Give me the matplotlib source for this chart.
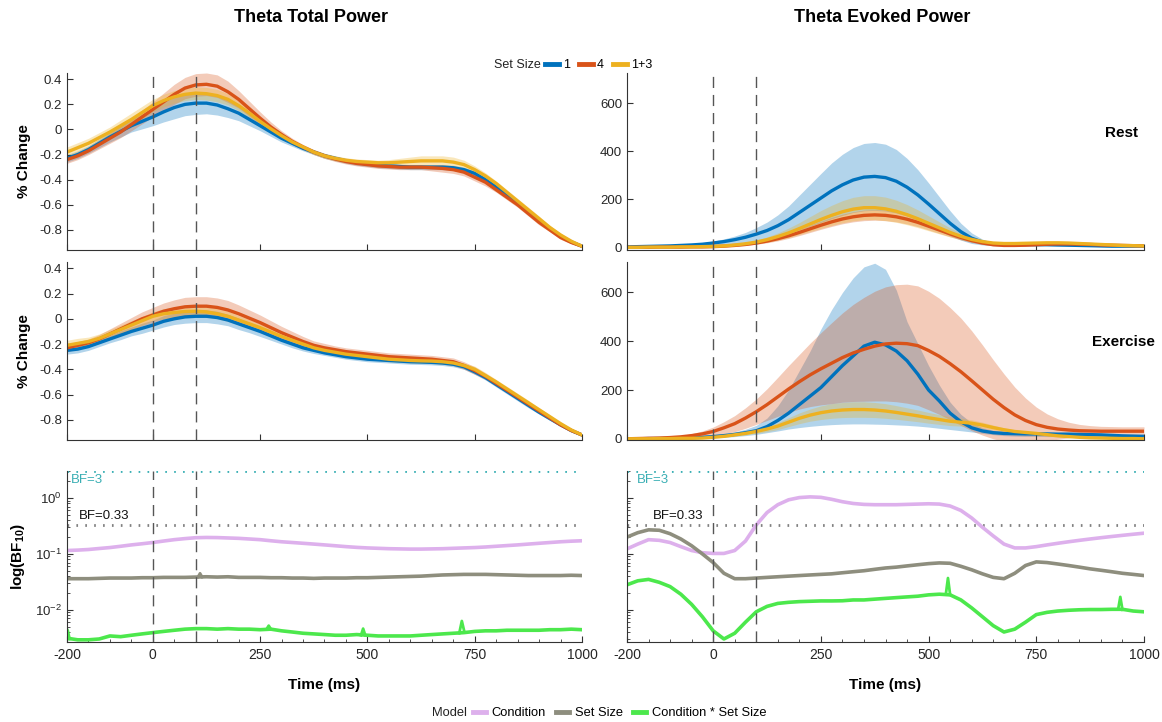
import numpy as np
import matplotlib
matplotlib.use('Agg')
import matplotlib.pyplot as plt
from matplotlib.lines import Line2D
from matplotlib.ticker import MultipleLocator, FixedLocator, NullFormatter

plt.rcParams['font.family'] = ['Liberation Sans', 'DejaVu Sans']
plt.rcParams['axes.unicode_minus'] = False
plt.rcParams['mathtext.fontset'] = 'custom'
plt.rcParams['mathtext.rm'] = 'Liberation Sans'
plt.rcParams['mathtext.bf'] = 'Liberation Sans:bold'

# ---------------- data ----------------
t = np.arange(-200, 1001, 25)   # ms, 49 samples

# total power, rest (% change)
tot_rest_1 = [-0.23, -0.20, -0.16, -0.11, -0.06, -0.015, 0.03, 0.065,
              0.10, 0.14, 0.175, 0.20, 0.21, 0.21, 0.195, 0.165,
              0.13, 0.08, 0.03, -0.02, -0.07, -0.11, -0.15, -0.18,
              -0.21, -0.23, -0.25, -0.265, -0.275, -0.285, -0.29, -0.295,
              -0.30, -0.30, -0.30, -0.30, -0.305, -0.32, -0.35, -0.40,
              -0.46, -0.52, -0.59, -0.66, -0.73, -0.79, -0.85, -0.895,
              -0.93]
tot_rest_4 = [-0.24, -0.21, -0.17, -0.12, -0.07, -0.02, 0.04, 0.10,
              0.16, 0.22, 0.28, 0.33, 0.355, 0.36, 0.345, 0.30,
              0.24, 0.165, 0.09, 0.02, -0.04, -0.095, -0.14, -0.18,
              -0.21, -0.235, -0.255, -0.27, -0.28, -0.29, -0.295, -0.30,
              -0.30, -0.30, -0.305, -0.31, -0.32, -0.34, -0.38, -0.42,
              -0.48, -0.54, -0.60, -0.67, -0.74, -0.80, -0.86, -0.90,
              -0.93]
tot_rest_13 = [-0.18, -0.145, -0.11, -0.065, -0.02, 0.03, 0.08, 0.135,
               0.19, 0.23, 0.26, 0.28, 0.29, 0.285, 0.27, 0.24,
               0.19, 0.13, 0.065, 0.005, -0.05, -0.10, -0.14, -0.18,
               -0.21, -0.23, -0.245, -0.255, -0.26, -0.265, -0.265, -0.26,
               -0.255, -0.25, -0.25, -0.25, -0.26, -0.28, -0.32, -0.37,
               -0.43, -0.50, -0.57, -0.64, -0.71, -0.78, -0.84, -0.89,
               -0.93]
tot_rest_1_err = [0.03, 0.03, 0.03, 0.035, 0.04, 0.045, 0.05, 0.06,
                  0.07, 0.08, 0.09, 0.09, 0.09, 0.085, 0.08, 0.07,
                  0.06, 0.05, 0.04, 0.035, 0.03, 0.025, 0.02, 0.02,
                  0.02, 0.02, 0.02, 0.02, 0.02, 0.02, 0.02, 0.02,
                  0.02, 0.02, 0.02, 0.02, 0.02, 0.02, 0.02, 0.02,
                  0.02, 0.02, 0.02, 0.02, 0.015, 0.015, 0.01, 0.01,
                  0.01]
tot_rest_4_err = [0.03, 0.03, 0.03, 0.035, 0.04, 0.045, 0.05, 0.055,
                  0.06, 0.07, 0.08, 0.085, 0.09, 0.09, 0.09, 0.085,
                  0.07, 0.06, 0.05, 0.04, 0.03, 0.025, 0.02, 0.02,
                  0.02, 0.02, 0.02, 0.02, 0.02, 0.02, 0.02, 0.02,
                  0.02, 0.02, 0.025, 0.03, 0.03, 0.03, 0.03, 0.03,
                  0.02, 0.02, 0.02, 0.02, 0.02, 0.015, 0.015, 0.01,
                  0.01]
tot_rest_13_err = [0.04, 0.04, 0.04, 0.04, 0.04, 0.045, 0.05, 0.05,
                   0.05, 0.05, 0.05, 0.05, 0.05, 0.05, 0.05, 0.045,
                   0.04, 0.035, 0.03, 0.025, 0.02, 0.02, 0.02, 0.02,
                   0.02, 0.02, 0.02, 0.02, 0.02, 0.02, 0.025, 0.03,
                   0.035, 0.04, 0.04, 0.04, 0.04, 0.035, 0.03, 0.025,
                   0.02, 0.02, 0.02, 0.02, 0.02, 0.015, 0.015, 0.01,
                   0.01]

# total power, exercise
tot_ex_1 = [-0.25, -0.24, -0.22, -0.19, -0.16, -0.13, -0.10, -0.075,
            -0.05, -0.02, 0.0, 0.015, 0.02, 0.02, 0.01, -0.01,
            -0.04, -0.07, -0.10, -0.135, -0.17, -0.20, -0.23, -0.25,
            -0.27, -0.285, -0.30, -0.31, -0.32, -0.325, -0.33, -0.335,
            -0.34, -0.342, -0.345, -0.35, -0.36, -0.38, -0.42, -0.465,
            -0.52, -0.575, -0.63, -0.685, -0.74, -0.79, -0.84, -0.885,
            -0.92]
tot_ex_4 = [-0.23, -0.21, -0.19, -0.16, -0.12, -0.08, -0.04, 0.0,
            0.03, 0.06, 0.08, 0.095, 0.10, 0.10, 0.09, 0.07,
            0.04, 0.005, -0.03, -0.07, -0.11, -0.145, -0.18, -0.21,
            -0.23, -0.245, -0.26, -0.27, -0.28, -0.29, -0.30, -0.305,
            -0.31, -0.315, -0.32, -0.33, -0.34, -0.37, -0.41, -0.455,
            -0.51, -0.565, -0.62, -0.675, -0.73, -0.785, -0.84, -0.885,
            -0.92]
tot_ex_13 = [-0.21, -0.195, -0.18, -0.155, -0.12, -0.085, -0.05, -0.015,
             0.02, 0.04, 0.05, 0.058, 0.06, 0.055, 0.04, 0.02,
             -0.01, -0.04, -0.07, -0.105, -0.14, -0.17, -0.20, -0.23,
             -0.25, -0.265, -0.28, -0.29, -0.30, -0.31, -0.32, -0.325,
             -0.33, -0.333, -0.335, -0.34, -0.35, -0.37, -0.40, -0.45,
             -0.50, -0.555, -0.61, -0.665, -0.72, -0.775, -0.83, -0.88,
             -0.92]
tot_ex_1_err = [0.03, 0.03, 0.03, 0.03, 0.03, 0.035, 0.035, 0.04,
                0.04, 0.045, 0.045, 0.05, 0.05, 0.05, 0.05, 0.045,
                0.045, 0.04, 0.04, 0.035, 0.03, 0.03, 0.025, 0.025,
                0.02, 0.02, 0.02, 0.02, 0.02, 0.02, 0.02, 0.02,
                0.02, 0.02, 0.02, 0.02, 0.02, 0.02, 0.02, 0.02,
                0.02, 0.02, 0.02, 0.02, 0.015, 0.015, 0.01, 0.01,
                0.01]
tot_ex_4_err = [0.03, 0.03, 0.03, 0.035, 0.04, 0.045, 0.05, 0.055,
                0.06, 0.065, 0.07, 0.075, 0.075, 0.075, 0.075, 0.075,
                0.07, 0.065, 0.06, 0.055, 0.05, 0.045, 0.04, 0.035,
                0.035, 0.03, 0.03, 0.03, 0.03, 0.03, 0.03, 0.03,
                0.03, 0.03, 0.03, 0.03, 0.03, 0.03, 0.03, 0.025,
                0.025, 0.02, 0.02, 0.02, 0.015, 0.015, 0.01, 0.01,
                0.01]
tot_ex_13_err = [0.04, 0.04, 0.035, 0.035, 0.035, 0.035, 0.035, 0.035,
                 0.035, 0.04, 0.04, 0.04, 0.04, 0.04, 0.04, 0.04,
                 0.035, 0.035, 0.03, 0.03, 0.025, 0.02, 0.02, 0.02,
                 0.02, 0.02, 0.02, 0.02, 0.02, 0.02, 0.02, 0.02,
                 0.02, 0.02, 0.02, 0.02, 0.02, 0.02, 0.025, 0.025,
                 0.02, 0.02, 0.02, 0.02, 0.015, 0.015, 0.01, 0.01,
                 0.01]

# evoked power, rest
evo_rest_1 = [2, 3, 4, 5, 6, 8, 10, 13,
              18, 24, 32, 42, 55, 70, 90, 115,
              145, 175, 205, 235, 260, 280, 292, 295,
              290, 275, 250, 218, 180, 140, 100, 65,
              38, 22, 14, 12, 12, 12, 11, 11,
              10, 9, 8, 7, 6, 5, 5, 5,
              5]
evo_rest_1_err = [1, 1, 2, 2, 3, 4, 5, 6,
                  8, 11, 15, 20, 27, 35, 45, 57,
                  72, 87, 102, 116, 127, 135, 140, 141,
                  139, 132, 120, 105, 88, 70, 52, 35,
                  22, 12, 7, 5, 5, 5, 4, 4,
                  4, 3, 3, 3, 3, 3, 3, 3,
                  3]
evo_rest_4 = [0, 0, 0, 1, 1, 1, 2, 2,
              3, 5, 8, 12, 18, 26, 36, 48,
              62, 77, 92, 106, 118, 127, 133, 135,
              133, 127, 117, 104, 88, 72, 56, 41,
              28, 18, 11, 8, 8, 9, 11, 13,
              14, 14, 13, 12, 10, 9, 8, 7,
              6]
evo_rest_4_err = [0, 0, 0, 0, 0, 1, 1, 1,
                  1, 2, 3, 4, 5, 7, 9, 11,
                  13, 15, 17, 19, 20, 21, 22, 22,
                  22, 21, 20, 18, 16, 14, 12, 10,
                  8, 6, 5, 4, 4, 4, 4, 4,
                  4, 4, 4, 3, 3, 3, 3, 3,
                  3]
evo_rest_13 = [0, 0, 1, 1, 1, 2, 2, 3,
               4, 6, 10, 15, 22, 32, 45, 60,
               78, 97, 116, 133, 148, 159, 165, 165,
               160, 150, 136, 119, 100, 81, 62, 46,
               33, 24, 18, 16, 16, 17, 18, 19,
               19, 18, 16, 14, 12, 10, 8, 7,
               6]
evo_rest_13_err = [0, 0, 0, 0, 1, 1, 1, 1,
                   2, 3, 4, 6, 8, 11, 15, 20,
                   25, 31, 37, 42, 46, 49, 50, 50,
                   49, 46, 42, 37, 31, 25, 19, 14,
                   10, 7, 6, 5, 5, 5, 5, 5,
                   5, 5, 4, 4, 4, 3, 3, 3,
                   3]

# evoked power, exercise
evo_ex_1 = [0, 0, 1, 1, 2, 3, 4, 6,
            9, 13, 18, 25, 33, 50, 75, 105,
            140, 175, 210, 255, 300, 340, 380, 396,
            385, 360, 320, 265, 200, 155, 105, 70,
            45, 32, 25, 22, 21, 20, 20, 20,
            19, 19, 18, 17, 16, 14, 12, 11,
            10]
evo_ex_1_hi = [0, 0, 1, 2, 3, 5, 6, 9,
               14, 20, 28, 39, 55, 85, 135, 200,
               280, 360, 450, 530, 600, 660, 705, 720,
               695, 610, 480, 390, 300, 220, 150, 100,
               65, 45, 35, 30, 28, 27, 26, 24,
               22, 21, 19, 18, 17, 16, 15, 14,
               14]
evo_ex_1_lo = [0, 0, 0, 0, 1, 1, 2, 3,
               4, 6, 9, 13, 18, 25, 32, 40,
               46, 51, 55, 58, 60, 61, 61, 60,
               59, 57, 55, 52, 48, 43, 38, 33,
               28, 22, 17, 13, 11, 10, 10, 9,
               9, 8, 8, 7, 7, 6, 6, 6,
               6]
evo_ex_4 = [0, 1, 2, 3, 5, 8, 13, 20,
            30, 45, 62, 85, 111, 140, 172, 204,
            234, 262, 287, 310, 333, 352, 367, 380,
            389, 392, 390, 382, 362, 338, 308, 275,
            238, 200, 162, 128, 98, 75, 58, 47,
            40, 36, 33, 32, 31, 31, 31, 31,
            31]
evo_ex_4_err = [0, 1, 1, 2, 3, 5, 8, 12,
                18, 25, 33, 42, 52, 65, 80, 96,
                112, 130, 148, 166, 183, 199, 213, 225,
                234, 240, 244, 245, 243, 238, 230, 220,
                205, 185, 162, 138, 114, 92, 72, 55,
                42, 32, 26, 22, 20, 19, 18, 18,
                18]
evo_ex_13 = [0, 0, 0, 1, 1, 2, 2, 3,
             6, 10, 16, 22, 30, 40, 52, 68,
             84, 97, 107, 114, 118, 120, 120, 118,
             114, 108, 101, 94, 86, 79, 72, 68,
             64, 56, 46, 37, 30, 26, 22, 17,
             12, 9, 6, 4, 3, 2, 1, 1,
             0]
evo_ex_13_err = [0, 0, 0, 0, 1, 1, 1, 1,
                 2, 3, 4, 6, 8, 11, 14, 18,
                 22, 25, 28, 30, 31, 32, 32, 31,
                 30, 28, 26, 24, 22, 20, 18, 16,
                 14, 12, 10, 8, 7, 6, 5, 4,
                 3, 3, 2, 2, 2, 1, 1, 1,
                 1]

# Bayes factors (BF10), total power
bf_tot_cond = [0.115, 0.117, 0.12, 0.125, 0.13, 0.137, 0.145, 0.152,
               0.16, 0.17, 0.18, 0.188, 0.195, 0.197, 0.196, 0.193,
               0.19, 0.185, 0.18, 0.172, 0.165, 0.16, 0.155, 0.15,
               0.145, 0.14, 0.135, 0.131, 0.128, 0.126, 0.124, 0.123,
               0.122, 0.122, 0.123, 0.124, 0.126, 0.128, 0.13, 0.133,
               0.137, 0.141, 0.145, 0.15, 0.155, 0.16, 0.165, 0.169,
               0.172]
bf_tot_size = [0.036, 0.036, 0.036, 0.0365, 0.037, 0.037, 0.037, 0.0375,
               0.0375, 0.038, 0.038, 0.038, 0.0385, 0.039, 0.0385, 0.039,
               0.038, 0.038, 0.038, 0.0375, 0.0375, 0.037, 0.037, 0.0365,
               0.037, 0.037, 0.037, 0.0375, 0.0375, 0.038, 0.0385, 0.039,
               0.0395, 0.04, 0.041, 0.042, 0.0425, 0.043, 0.043, 0.043,
               0.0425, 0.042, 0.0415, 0.041, 0.041, 0.041, 0.041, 0.0415,
               0.041]
bf_tot_inter = [0.0031, 0.0029, 0.0029, 0.003, 0.0034, 0.0033, 0.0035, 0.0037,
                0.0039, 0.0041, 0.0043, 0.0045, 0.0046, 0.0046, 0.0045, 0.0046,
                0.0045, 0.0045, 0.0044, 0.0045, 0.0042, 0.004, 0.0038, 0.0037,
                0.0036, 0.0035, 0.0035, 0.0036, 0.0035, 0.0034, 0.0034, 0.0034,
                0.0034, 0.0035, 0.0036, 0.0037, 0.0038, 0.0039, 0.0041, 0.0042,
                0.0042, 0.0043, 0.0043, 0.0043, 0.0043, 0.0044, 0.0044, 0.0045,
                0.0044]

# Bayes factors, evoked power
bf_evo_cond = [0.123, 0.15, 0.18, 0.175, 0.16, 0.135, 0.115, 0.105,
               0.102, 0.102, 0.115, 0.17, 0.33, 0.55, 0.76, 0.93,
               1.02, 1.05, 1.03, 0.95, 0.86, 0.8, 0.77, 0.76,
               0.76, 0.76, 0.77, 0.78, 0.79, 0.78, 0.72, 0.6,
               0.44, 0.3, 0.21, 0.15, 0.128, 0.128, 0.135, 0.145,
               0.155, 0.165, 0.175, 0.185, 0.195, 0.205, 0.215, 0.225,
               0.235]
bf_evo_size = [0.2, 0.24, 0.27, 0.265, 0.23, 0.185, 0.14, 0.1,
               0.07, 0.045, 0.036, 0.036, 0.037, 0.038, 0.039, 0.04,
               0.041, 0.042, 0.043, 0.044, 0.046, 0.048, 0.05, 0.053,
               0.056, 0.058, 0.061, 0.064, 0.067, 0.069, 0.068, 0.06,
               0.052, 0.044, 0.038, 0.036, 0.045, 0.062, 0.072, 0.07,
               0.066, 0.062, 0.058, 0.054, 0.051, 0.048, 0.045, 0.043,
               0.041]
bf_evo_inter = [0.028, 0.033, 0.035, 0.031, 0.026, 0.019, 0.0125, 0.0075,
                0.0042, 0.003, 0.0038, 0.006, 0.0092, 0.0115, 0.013, 0.0136,
                0.014, 0.0142, 0.0144, 0.0144, 0.0145, 0.015, 0.015, 0.0155,
                0.016, 0.0165, 0.017, 0.0175, 0.0185, 0.019, 0.0185, 0.015,
                0.0108, 0.0075, 0.0052, 0.004, 0.0045, 0.006, 0.0082, 0.009,
                0.0095, 0.0098, 0.01, 0.0101, 0.0101, 0.0102, 0.0102, 0.0095,
                0.0092]

# short spikes in the BF traces
spk_tot_size_t, spk_tot_size_v = [105, 110, 115], [0.0385, 0.045, 0.0385]
spk_tot_inter_t = [[-200, -198, -194], [265, 270, 275], [485, 490, 495], [714, 720, 726]]
spk_tot_inter_v = [[0.0045, 0.0042, 0.003], [0.0045, 0.0052, 0.0045], [0.0035, 0.0046, 0.0035],
                   [0.0038, 0.0063, 0.004]]
spk_evo_inter_t = [[540, 545, 550], [940, 945, 950]]
spk_evo_inter_v = [[0.0188, 0.037, 0.0186], [0.0102, 0.017, 0.0100]]

set_sizes = ['1', '4', '1+3']
models = ['Condition', 'Set Size', 'Condition * Set Size']

# ---------------- style ----------------
c_ss = ['#0072BD', '#D95319', '#EDB120']
c_model = ['#DDB0EC', '#8E8E7E', '#4CE84C']
c_bf3 = '#3AAFB4'
c_dash = '#555555'
tick_col = '#333333'

W, H = 1162, 722
fig = plt.figure(figsize=(W / 100, H / 100), dpi=100)


def rect(x0, y0, x1, y1):
    return [x0 / W, 1 - y1 / H, (x1 - x0) / W, (y1 - y0) / H]


ax_tl = fig.add_axes(rect(67, 73, 582, 250))
ax_tr = fig.add_axes(rect(627, 73, 1144, 250))
ax_ml = fig.add_axes(rect(67, 262, 582, 440))
ax_mr = fig.add_axes(rect(627, 262, 1144, 440))
ax_bl = fig.add_axes(rect(67, 471, 582, 642))
ax_br = fig.add_axes(rect(627, 471, 1144, 642))


def base_axes(ax):
    ax.set_xlim(-200, 1000)
    for s in ['top', 'right']:
        ax.spines[s].set_visible(False)
    for s in ['left', 'bottom']:
        ax.spines[s].set_color(tick_col)
        ax.spines[s].set_linewidth(0.8)
    ax.tick_params(direction='in', length=4, width=0.8, color=tick_col,
                   labelcolor='#262626', labelsize=9.5)
    ax.tick_params(which='minor', direction='in', length=2, width=0.6, color=tick_col)
    ax.xaxis.set_major_locator(FixedLocator([-200, 0, 250, 500, 750, 1000]))
    for x in [0, 100]:
        ax.axvline(x, color=c_dash, lw=1.0, ls=(0, (8, 5)), zorder=5)


def power_panel(ax, means, lows, highs):
    base_axes(ax)
    for m, lo, hi, c in zip(means, lows, highs, c_ss):
        ax.fill_between(t, lo, hi, color=c, alpha=0.3, lw=0)
        ax.plot(t, m, color=c, lw=2.4)
    ax.tick_params(axis='x', labelbottom=False)


def band(m, e):
    m, e = np.array(m), np.array(e)
    return m - e, m + e


# total power panels
for ax, series in [(ax_tl, [(tot_rest_1, tot_rest_1_err), (tot_rest_4, tot_rest_4_err),
                            (tot_rest_13, tot_rest_13_err)]),
                   (ax_ml, [(tot_ex_1, tot_ex_1_err), (tot_ex_4, tot_ex_4_err),
                            (tot_ex_13, tot_ex_13_err)])]:
    bands = [band(m, e) for m, e in series]
    power_panel(ax, [s[0] for s in series], [b[0] for b in bands], [b[1] for b in bands])
    ax.set_ylim(-0.96, 0.45)
    ax.set_yticks([-0.8, -0.6, -0.4, -0.2, 0, 0.2, 0.4])
    ax.set_yticklabels(['-0.8', '-0.6', '-0.4', '-0.2', '0', '0.2', '0.4'])

# evoked power panels
bands = [band(evo_rest_1, evo_rest_1_err), band(evo_rest_4, evo_rest_4_err),
         band(evo_rest_13, evo_rest_13_err)]
power_panel(ax_tr, [evo_rest_1, evo_rest_4, evo_rest_13], [b[0] for b in bands], [b[1] for b in bands])
ax_tr.set_ylim(-11, 725)

b4, b13 = band(evo_ex_4, evo_ex_4_err), band(evo_ex_13, evo_ex_13_err)
power_panel(ax_mr, [evo_ex_1, evo_ex_4, evo_ex_13], [evo_ex_1_lo, b4[0], b13[0]], [evo_ex_1_hi, b4[1], b13[1]])
ax_mr.set_ylim(-5, 725)
for ax in [ax_tr, ax_mr]:
    ax.set_yticks([0, 200, 400, 600])

# Bayes factor panels
for ax, traces in [(ax_bl, [bf_tot_cond, bf_tot_size, bf_tot_inter]),
                   (ax_br, [bf_evo_cond, bf_evo_size, bf_evo_inter])]:
    base_axes(ax)
    ax.set_yscale('log')
    ax.set_ylim(0.00265, 3.05)
    ax.xaxis.set_minor_locator(MultipleLocator(50))
    ax.set_xticklabels(['-200', '0', '250', '500', '750', '1000'])
    ax.tick_params(axis='x', labelsize=10, pad=4)
    ax.axhline(3, color=c_bf3, lw=2, ls=(0, (0.6, 2.6)))
    ax.axhline(0.33, color='#808080', lw=2, ls=(0, (0.6, 2.6)))
    for v, c in zip(traces, c_model):
        ax.plot(t, v, color=c, lw=2.6)

ax_bl.set_yticks([0.01, 0.1, 1])
ax_br.yaxis.set_major_formatter(NullFormatter())
ax_br.yaxis.set_minor_formatter(NullFormatter())

ax_bl.plot(spk_tot_size_t, spk_tot_size_v, color=c_model[1], lw=2)
for ts, vs in zip(spk_tot_inter_t, spk_tot_inter_v):
    ax_bl.plot(ts, vs, color=c_model[2], lw=2)
for ts, vs in zip(spk_evo_inter_t, spk_evo_inter_v):
    ax_br.plot(ts, vs, color=c_model[2], lw=2)

ax_bl.text(-192, 2.1, 'BF=3', color=c_bf3, fontsize=9.5, va='center')
ax_bl.text(-172, 0.38, 'BF=0.33', color='#111111', fontsize=9.5, va='bottom')
ax_br.text(-176, 2.1, 'BF=3', color=c_bf3, fontsize=9.5, va='center')
ax_br.text(-140, 0.38, 'BF=0.33', color='#111111', fontsize=9.5, va='bottom')

# ---------------- labels ----------------
fig.text(311 / W, 1 - 18 / H, 'Theta Total Power', ha='center', va='center', fontsize=13, fontweight='bold')
fig.text(882 / W, 1 - 18 / H, 'Theta Evoked Power', ha='center', va='center', fontsize=13, fontweight='bold')
fig.text(1121 / W, 1 - 133 / H, 'Rest', ha='center', va='center', fontsize=11, fontweight='bold')
fig.text(1123 / W, 1 - 342 / H, 'Exercise', ha='center', va='center', fontsize=11, fontweight='bold')

for ax in [ax_tl, ax_ml]:
    ax.set_ylabel('% Change', fontsize=11, fontweight='bold', labelpad=6)
ax_bl.set_ylabel(r'log(BF$_{\mathbf{10}}$)', fontsize=11, fontweight='bold', labelpad=6)
for ax in [ax_bl, ax_br]:
    ax.set_xlabel('Time (ms)', fontsize=11, fontweight='bold', labelpad=12)

# set size legend
fig.text(541 / W, 1 - 65 / H, 'Set Size', ha='right', va='center', fontsize=9, color='#222222')
h_ss = [Line2D([], [], color=c, lw=3.5) for c in c_ss]
fig.legend(h_ss, set_sizes, loc='center left', bbox_to_anchor=(545 / W, 1 - 65 / H), ncol=3,
           frameon=False, fontsize=9, handlelength=1.1, handletextpad=0.35, columnspacing=0.7,
           borderpad=0, borderaxespad=0)

# model legend
fig.text(467 / W, 1 - 713 / H, 'Model', ha='right', va='center', fontsize=9.3, color='#222222')
h_mod = [Line2D([], [], color=c, lw=3.5) for c in c_model]
fig.legend(h_mod, models, loc='center left', bbox_to_anchor=(473 / W, 1 - 713 / H), ncol=3,
           frameon=False, fontsize=9.3, handlelength=1.0, handletextpad=0.45, columnspacing=0.8,
           borderpad=0, borderaxespad=0)

fig.savefig('out.png', dpi=100)
